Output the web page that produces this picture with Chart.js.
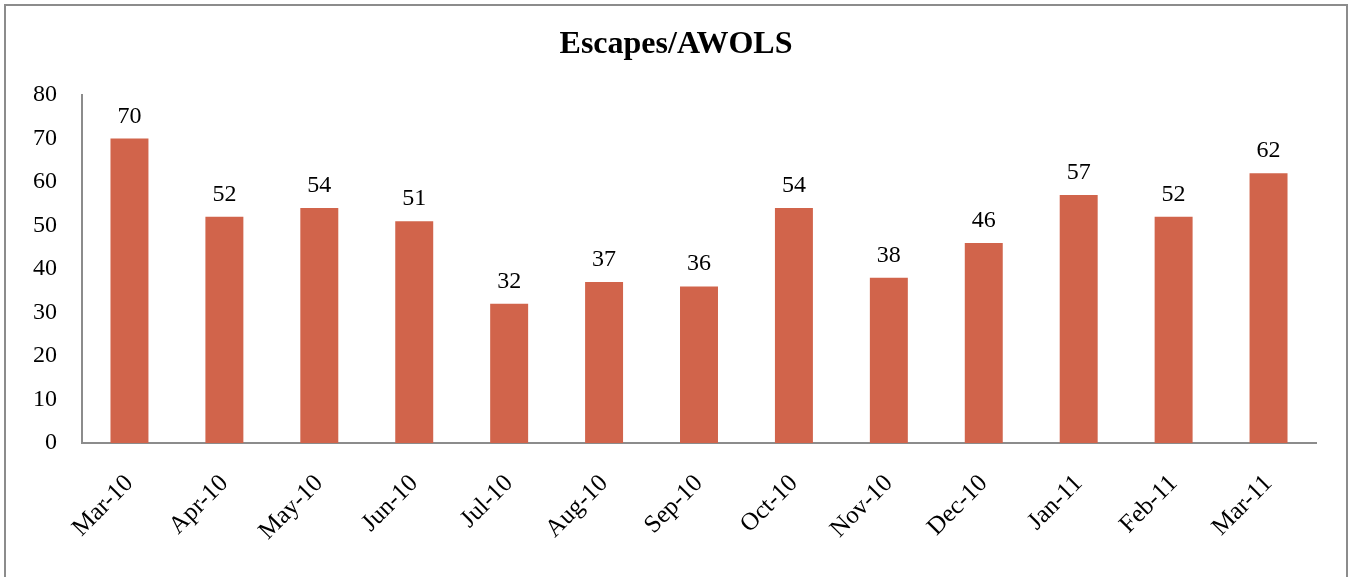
<!DOCTYPE html>
<html>
<head>
<meta charset="utf-8">
<script src="https://cdn.jsdelivr.net/npm/chart.js@4/dist/chart.umd.min.js"></script>
<style>
  body { margin: 0; background: #fff; overflow: hidden; }
  #frame { position: absolute; left: 4px; top: 4px; width: 1340px; height: 620px; border: 2px solid #8c8c8c; }
  #wrap { position: absolute; left: 0; top: 0; width: 1352px; height: 577px; }
</style>
</head>
<body>
<div id="frame"></div>
<div id="wrap"><canvas id="escapesChart"></canvas></div>
<script>
const months = ['Mar-10', 'Apr-10', 'May-10', 'Jun-10', 'Jul-10', 'Aug-10', 'Sep-10',
                'Oct-10', 'Nov-10', 'Dec-10', 'Jan-11', 'Feb-11', 'Mar-11'];
const escapes = [70, 52, 54, 51, 32, 37, 36, 54, 38, 46, 57, 52, 62];
const yTicks = [0, 10, 20, 30, 40, 50, 60, 70, 80];

const serif = "'Liberation Serif', 'Times New Roman', serif";

// numbers above each bar
const barLabels = {
   id: 'barLabels',
   afterDatasetsDraw(chart) {
      const ctx = chart.ctx;
      const meta = chart.getDatasetMeta(0);
      ctx.save();
      ctx.font = '24px ' + serif;
      ctx.fillStyle = '#000';
      ctx.textAlign = 'center';
      ctx.textBaseline = 'alphabetic';
      meta.data.forEach((bar, i) => {
         ctx.fillText(escapes[i], bar.x, bar.y - 16);
      });
      ctx.restore();
   }
};

var ctx = document.getElementById('escapesChart').getContext('2d');
var escapesChart = new Chart(ctx, {
   type: 'bar',
   data: {
      labels: months,
      datasets: [{
         data: escapes,
         backgroundColor: '#D1644B',
         barPercentage: 0.4,
         categoryPercentage: 1.0
      }]
   },
   options: {
      responsive: true,
      maintainAspectRatio: false,
      animation: false,
      layout: { padding: 0 },
      plugins: {
         legend: { display: false },
         tooltip: { enabled: false },
         title: {
            display: true,
            text: 'Escapes/AWOLS',
            color: '#000',
            font: { family: serif, size: 32, weight: 'bold' },
            padding: { top: 26, bottom: 30.6 }
         }
      },
      scales: {
         y: {
            min: 0,
            max: 80,
            afterBuildTicks: (scale) => { scale.ticks = yTicks.map(v => ({ value: v })); },
            afterFit: (scale) => { scale.width = 82; },
            grid: { display: false, drawTicks: false },
            border: { display: true, color: '#8c8c8c', width: 2 },
            ticks: { color: '#000', padding: 25, font: { family: serif, size: 24 } }
         },
         // empty right-hand strip so the title stays centred on the whole frame
         yRight: {
            position: 'right',
            min: 0,
            max: 80,
            afterFit: (scale) => { scale.width = 36; },
            grid: { display: false, drawTicks: false },
            border: { display: false },
            ticks: { display: false }
         },
         x: {
            afterFit: (scale) => { scale.height = 134; },
            grid: { display: false, drawTicks: false },
            border: { display: true, color: '#8c8c8c', width: 2 },
            ticks: {
               color: '#000',
               minRotation: 45,
               maxRotation: 45,
               padding: 26,
               font: { family: serif, size: 25 }
            }
         }
      }
   },
   plugins: [barLabels]
});
</script>
</body>
</html>
